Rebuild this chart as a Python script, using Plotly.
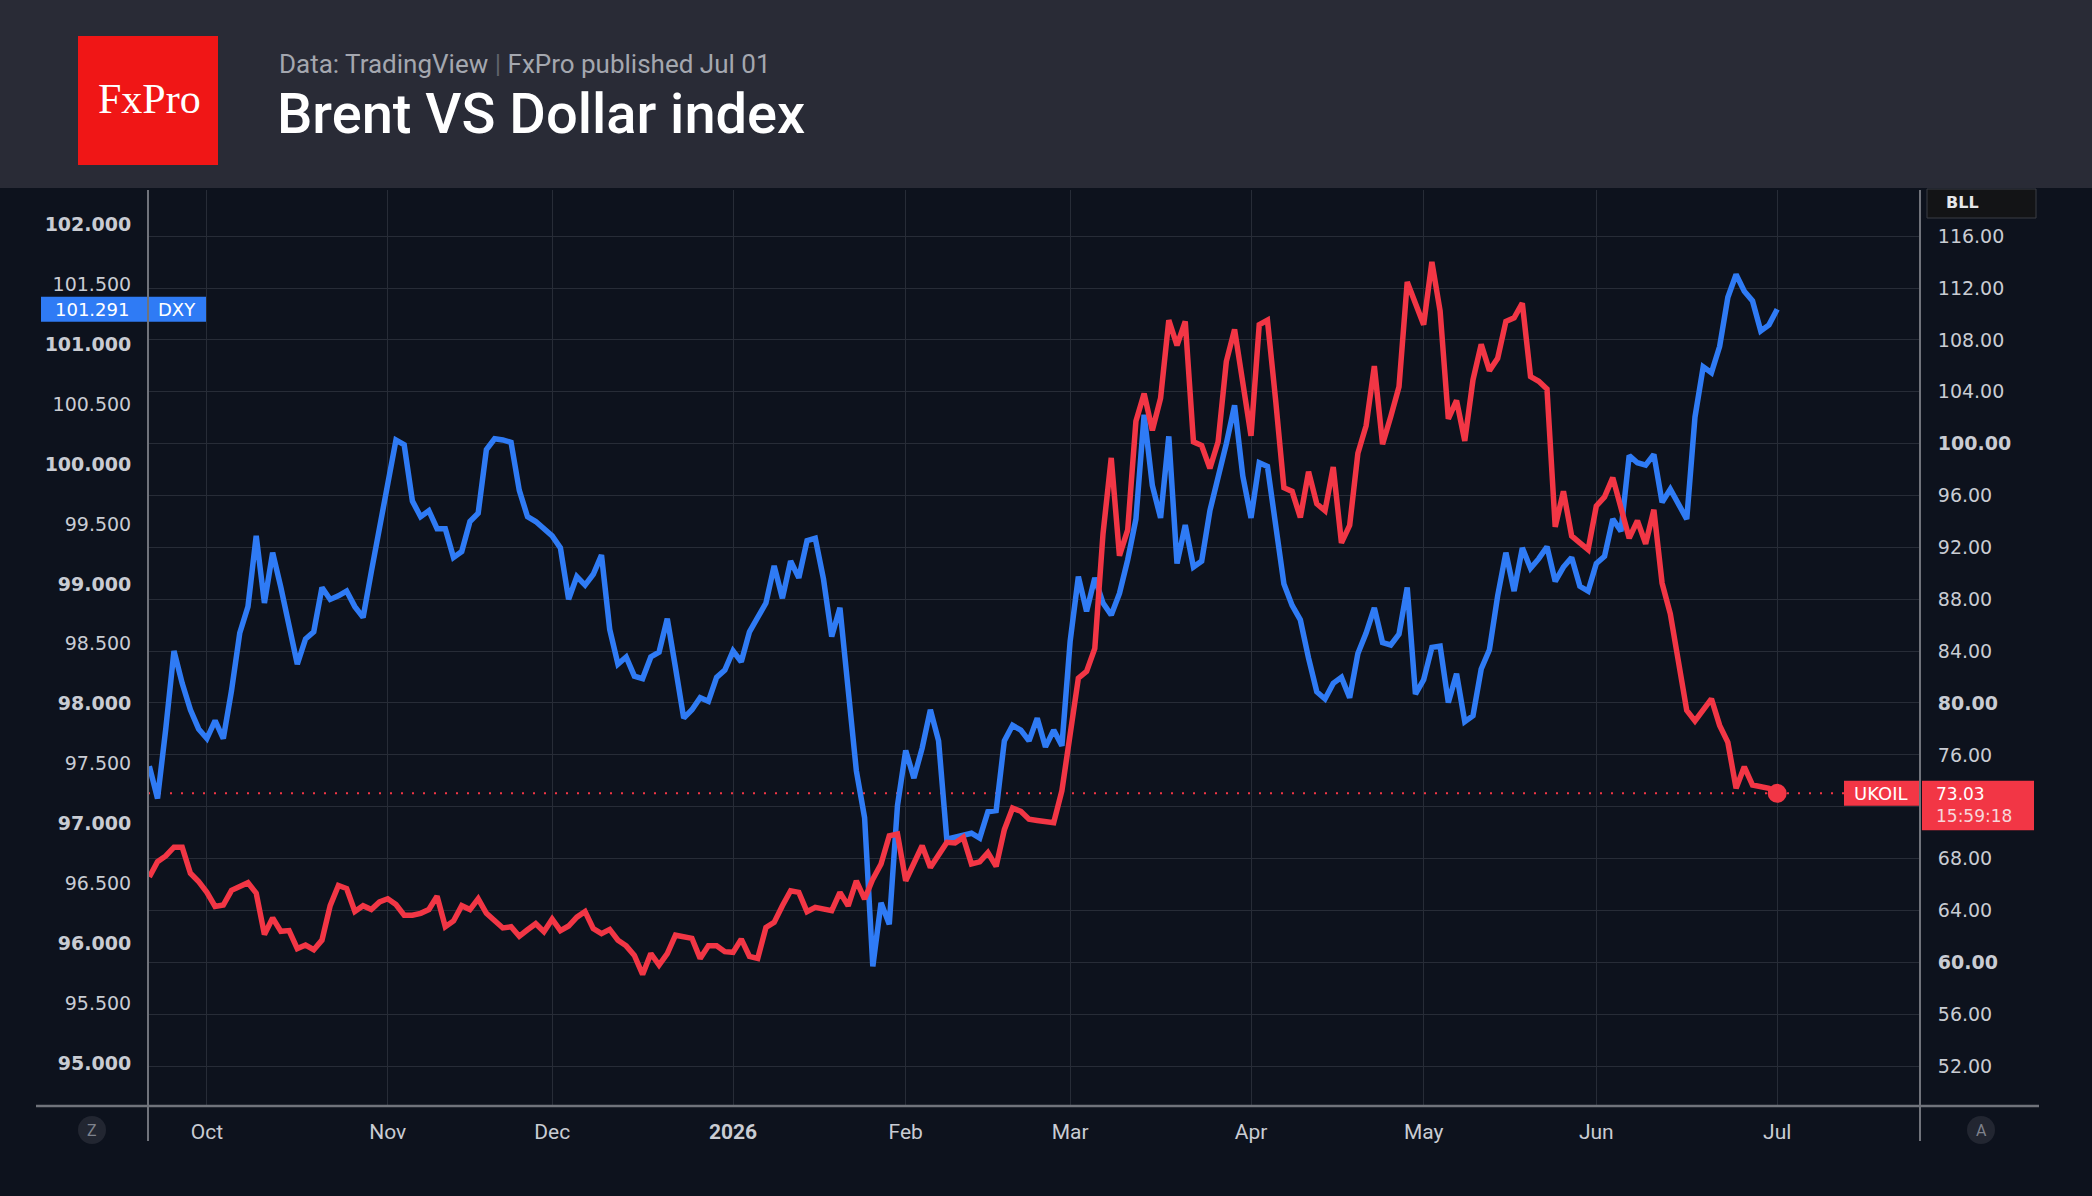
import plotly.graph_objects as go
import pandas as pd

W, H = 2092, 1196
L, R, T, B = 148, 1920, 190, 1106

# ---------------- data ----------------
missing_days = ["2025-10-13", "2025-12-25", "2026-01-01", "2026-04-03"]
dates = [d.strftime("%Y-%m-%d") for d in pd.bdate_range("2025-09-22", "2026-07-01")]
dates = [d for d in dates if d not in missing_days]

dxy = [
    97.48, 97.21, 97.79, 98.44, 98.17, 97.95, 97.79, 97.71, 97.86, 97.71,
    98.11, 98.59, 98.81, 99.40, 98.84, 99.26, 98.97, 98.65, 98.33, 98.54,
    98.60, 98.97, 98.87, 98.90, 98.94, 98.81, 98.72, 99.10, 99.45, 99.80,
    100.20, 100.16, 99.69, 99.56, 99.61, 99.46, 99.46, 99.22, 99.27, 99.52,
    99.59, 100.12, 100.21, 100.20, 100.18, 99.78, 99.56, 99.52, 99.46, 99.40,
    99.30, 98.87, 99.06, 98.99, 99.08, 99.24, 98.62, 98.33, 98.39, 98.23,
    98.21, 98.39, 98.43, 98.71, 98.30, 97.88, 97.95, 98.05, 98.02, 98.22,
    98.28, 98.44, 98.35, 98.60, 98.72, 98.84, 99.15, 98.88, 99.19, 99.05,
    99.36, 99.38, 99.04, 98.56, 98.80, 98.15, 97.44, 97.05, 95.81, 96.34,
    96.16, 97.15, 97.61, 97.38, 97.63, 97.95, 97.69, 96.87, 96.89, 96.91,
    96.92, 96.88, 97.10, 97.11, 97.69, 97.82, 97.78, 97.69, 97.88, 97.64,
    97.78, 97.65, 98.52, 99.06, 98.77, 99.05, 98.84, 98.74, 98.92, 99.20,
    99.54, 100.41, 99.82, 99.55, 100.23, 99.17, 99.49, 99.14, 99.19, 99.61,
    99.88, 100.17, 100.49, 99.90, 99.55, 100.01, 99.98, 99.47, 99.00, 98.82,
    98.70, 98.38, 98.10, 98.04, 98.17, 98.22, 98.05, 98.42, 98.59, 98.80,
    98.51, 98.49, 98.58, 98.97, 98.08, 98.20, 98.47, 98.48, 98.01, 98.25,
    97.85, 97.90, 98.29, 98.45, 98.90, 99.26, 98.94, 99.30, 99.13, 99.21,
    99.31, 99.02, 99.14, 99.22, 98.98, 98.94, 99.17, 99.23, 99.54, 99.44,
    100.07, 100.01, 99.99, 100.08, 99.68, 99.79, 99.66, 99.54, 100.39, 100.81,
    100.76, 100.98, 101.39, 101.58, 101.44, 101.36, 101.11, 101.16, 101.291,
]

brent = [
    66.58, 67.76, 68.20, 68.88, 68.88, 66.87, 66.22, 65.40, 64.31, 64.42,
    65.55, 65.84, 66.14, 65.34, 62.15, 63.42, 62.39, 62.45, 61.06, 61.33,
    60.97, 61.71, 64.37, 65.93, 65.69, 63.92, 64.37, 64.07, 64.66, 64.90,
    64.45, 63.63, 63.63, 63.78, 64.07, 65.10, 62.74, 63.19, 64.37, 64.07,
    64.90, 63.78, 63.27, 62.65, 62.74, 62.01, 62.51, 62.98, 62.36, 63.33,
    62.45, 62.80, 63.48, 63.92, 62.60, 62.21, 62.54, 61.71, 61.27, 60.53,
    59.06, 60.68, 59.79, 60.68, 62.09, 62.01, 61.85, 60.30, 61.28, 61.28,
    60.82, 60.77, 61.79, 60.46, 60.30, 62.69, 63.08, 64.36, 65.52, 65.39,
    63.90, 64.24, 64.16, 63.98, 65.39, 64.36, 66.29, 64.88, 66.42, 67.58,
    69.76, 69.89, 66.29, 67.58, 68.99, 67.32, 68.22, 69.25, 69.20, 69.63,
    67.58, 67.75, 68.46, 67.40, 70.23, 71.89, 71.65, 71.04, 70.94, 70.83,
    70.76, 73.24, 77.67, 81.91, 82.44, 84.21, 93.06, 98.90, 91.36, 93.35,
    101.73, 103.86, 101.03, 103.50, 109.52, 107.58, 109.42, 100.14, 99.86, 98.09,
    100.14, 106.34, 108.81, 104.50, 100.60, 109.17, 109.52, 103.33, 96.60, 96.32,
    94.30, 97.84, 95.36, 94.83, 98.19, 92.35, 93.70, 99.26, 101.38, 105.98,
    99.96, 102.09, 104.39, 112.46, 110.76, 109.17, 114.02, 110.23, 101.91, 103.33,
    100.21, 104.92, 107.65, 105.63, 106.58, 109.42, 109.70, 110.83, 105.17, 104.81,
    104.21, 93.59, 96.32, 92.88, 92.35, 91.82, 95.19, 95.89, 97.38, 94.83,
    92.71, 94.05, 92.28, 94.90, 89.24, 86.87, 83.33, 79.43, 78.62, 79.43,
    80.32, 78.27, 76.96, 73.42, 75.08, 73.67, 73.59, 73.42, 73.03,
]

month_ticks = ["2025-10-01", "2025-11-03", "2025-12-01", "2026-01-02", "2026-02-02",
               "2026-03-02", "2026-04-01", "2026-05-01", "2026-06-01", "2026-07-01"]
month_labels = ["Oct", "Nov", "Dec", "<b>2026</b>", "Feb", "Mar", "Apr", "May", "Jun", "Jul"]

dxy_ticks = [95.0, 95.5, 96.0, 96.5, 97.0, 97.5, 98.0, 98.5, 99.0, 99.5,
             100.0, 100.5, 101.0, 101.5, 102.0]
brent_ticks = [52, 56, 60, 64, 68, 72, 76, 80, 84, 88, 92, 96, 100, 104, 108, 112, 116]
brent_hidden_tick = 72  # covered by the last-price tag in the original

DXY_RANGE = [94.645, 102.285]
BRENT_RANGE = [48.92, 119.56]
X_RANGE = [-0.16, 215.37]

# ---------------- styles ----------------
BG = "#0d121d"
HEADER = "#292b36"
GRID = "#272c37"
BLUE = "#2f7bf5"
RED = "#f23645"
AXIS_LINE = "#70737b"
TXT = "#c9ccd3"
NUM_FONT = "DejaVu Sans"


def px(x):
    return (x - L) / (R - L)


def py(y):
    return (B - y) / (B - T)


dxy_text = [f"<b>{v:.3f}</b>" if v == int(v) else f"{v:.3f}" for v in dxy_ticks]
brent_text = []
for v in brent_ticks:
    if v == brent_hidden_tick:
        brent_text.append("")
    elif v % 20 == 0:
        brent_text.append(f"<b>{v:.2f}</b>")
    else:
        brent_text.append(f"{v:.2f}")

fig = go.Figure()
fig.add_trace(go.Scatter(x=dates, y=dxy, mode="lines", name="DXY",
                         line=dict(color=BLUE, width=5.5), yaxis="y", hoverinfo="skip"))
fig.add_trace(go.Scatter(x=dates, y=brent, mode="lines", name="UKOIL",
                         line=dict(color=RED, width=5.5), yaxis="y2", hoverinfo="skip"))
fig.add_trace(go.Scatter(x=[dates[-1]], y=[brent[-1]], mode="markers",
                         marker=dict(color=RED, size=19), yaxis="y2", hoverinfo="skip"))

shapes = []
annotations = []

# header band
shapes.append(dict(type="rect", xref="paper", yref="paper", x0=px(0), x1=px(W),
                   y0=py(188), y1=py(0), fillcolor=HEADER, line=dict(width=0), layer="above"))
# logo
shapes.append(dict(type="rect", xref="paper", yref="paper", x0=px(78), x1=px(218),
                   y0=py(165), y1=py(36), fillcolor="#f01616", line=dict(width=0), layer="above"))
annotations.append(dict(xref="paper", yref="paper", x=px(149), y=py(99), text="FxPro",
                        showarrow=False, xanchor="center", yanchor="middle",
                        font=dict(family="Liberation Serif", size=42, color="white")))
annotations.append(dict(xref="paper", yref="paper", x=px(277), y=py(64),
                        text="Data: TradingView <span style='color:#5f626b'>|</span> FxPro published Jul 01",
                        showarrow=False, xanchor="left", yanchor="middle",
                        font=dict(family="Roboto", size=26, color="#a4a7af")))
annotations.append(dict(xref="paper", yref="paper", x=px(275), y=py(114),
                        text="Brent VS Dollar index", showarrow=False,
                        xanchor="left", yanchor="middle",
                        font=dict(family="Roboto", size=56, color="white", weight=500)))

# axis lines
shapes.append(dict(type="line", xref="paper", yref="paper", x0=px(148), x1=px(148),
                   y0=py(190), y1=py(1141), line=dict(color=AXIS_LINE, width=2), layer="above"))
shapes.append(dict(type="line", xref="paper", yref="paper", x0=px(1920), x1=px(1920),
                   y0=py(190), y1=py(1141), line=dict(color=AXIS_LINE, width=2), layer="above"))
shapes.append(dict(type="line", xref="paper", yref="paper", x0=px(36), x1=px(2039),
                   y0=py(1106), y1=py(1106), line=dict(color=AXIS_LINE, width=2.5), layer="above"))

# last price dotted line
shapes.append(dict(type="line", xref="paper", yref="y2", x0=0, x1=px(1844),
                   y0=brent[-1], y1=brent[-1], line=dict(color=RED, width=2, dash="2px,9px"),
                   layer="below"))

# DXY tag (left)
d_half = 12.5 / (B - T) * (DXY_RANGE[1] - DXY_RANGE[0])
shapes.append(dict(type="rect", xref="paper", yref="y", x0=px(41), x1=px(206),
                   y0=dxy[-1] - d_half, y1=dxy[-1] + d_half, fillcolor=BLUE,
                   line=dict(width=0), layer="below"))
annotations.append(dict(xref="paper", yref="y", x=px(92), y=dxy[-1], text=f"{dxy[-1]:.3f}",
                        showarrow=False, xanchor="center", yanchor="middle",
                        font=dict(family=NUM_FONT, size=18, color="white")))
annotations.append(dict(xref="paper", yref="y", x=px(177), y=dxy[-1], text="DXY",
                        showarrow=False, xanchor="center", yanchor="middle",
                        font=dict(family=NUM_FONT, size=18, color="white")))

# UKOIL tags (right)
b_unit = (BRENT_RANGE[1] - BRENT_RANGE[0]) / (B - T)
shapes.append(dict(type="rect", xref="paper", yref="y2", x0=px(1844), x1=px(1919),
                   y0=brent[-1] - 12.5 * b_unit, y1=brent[-1] + 12.5 * b_unit,
                   fillcolor=RED, line=dict(width=0), layer="above"))
shapes.append(dict(type="rect", xref="paper", yref="y2", x0=px(1922), x1=px(2034),
                   y0=brent[-1] - 37 * b_unit, y1=brent[-1] + 12.5 * b_unit,
                   fillcolor=RED, line=dict(width=0), layer="above"))
annotations.append(dict(xref="paper", yref="y2", x=px(1881), y=brent[-1], text="UKOIL",
                        showarrow=False, xanchor="center", yanchor="middle",
                        font=dict(family=NUM_FONT, size=18, color="white")))
annotations.append(dict(xref="paper", yref="y2", x=px(1934), y=brent[-1] - 11.5 * b_unit,
                        text=f"{brent[-1]:.2f}<br><span style='color:#f7d6da'>15:59:18</span>",
                        showarrow=False, xanchor="left", yanchor="middle", align="left",
                        font=dict(family=NUM_FONT, size=17, color="white")))

# BLL box
shapes.append(dict(type="rect", xref="paper", yref="paper", x0=px(1927), x1=px(2036),
                   y0=py(218), y1=py(189), fillcolor="#131416",
                   line=dict(color="#3a3d45", width=1), layer="above"))
annotations.append(dict(xref="paper", yref="paper", x=px(1944), y=py(202), text="<b>BLL</b>",
                        showarrow=False, xanchor="left", yanchor="middle",
                        font=dict(family=NUM_FONT, size=16, color="#e6e7ea")))

# Z / A buttons
for cx, ch in ((92, "Z"), (1981, "A")):
    shapes.append(dict(type="circle", xref="paper", yref="paper", x0=px(cx - 14), x1=px(cx + 14),
                       y0=py(1144), y1=py(1116), fillcolor="#222631", line=dict(width=0),
                       layer="above"))
    annotations.append(dict(xref="paper", yref="paper", x=px(cx), y=py(1130), text=ch,
                            showarrow=False, xanchor="center", yanchor="middle",
                            font=dict(family="Roboto", size=16, color="#7e828c")))

fig.update_layout(
    width=W, height=H, autosize=False,
    margin=dict(l=L, r=W - R, t=T, b=H - B, pad=0),
    paper_bgcolor=BG, plot_bgcolor=BG,
    showlegend=False,
    shapes=shapes, annotations=annotations,
    xaxis=dict(type="category", range=X_RANGE, tickmode="array",
               tickvals=month_ticks, ticktext=month_labels,
               showgrid=True, gridcolor=GRID, gridwidth=1, zeroline=False, showline=False,
               ticks="outside", ticklen=7, tickcolor="rgba(0,0,0,0)",
               tickfont=dict(family="Roboto", size=21, color=TXT), fixedrange=True),
    yaxis=dict(range=DXY_RANGE, tickmode="array", tickvals=dxy_ticks, ticktext=dxy_text,
               showgrid=False, zeroline=False, showline=False, side="left",
               ticks="outside", ticklen=12, tickcolor="rgba(0,0,0,0)",
               tickfont=dict(family=NUM_FONT, size=19, color=TXT), fixedrange=True),
    yaxis2=dict(range=BRENT_RANGE, tickmode="array", tickvals=brent_ticks, ticktext=brent_text,
                overlaying="y", side="right", showgrid=True, gridcolor=GRID, gridwidth=1,
                zeroline=False, showline=False,
                ticks="outside", ticklen=13, tickcolor="rgba(0,0,0,0)",
                tickfont=dict(family=NUM_FONT, size=19, color=TXT), fixedrange=True),
)

fig.write_html("out.html", config={"displayModeBar": False})
